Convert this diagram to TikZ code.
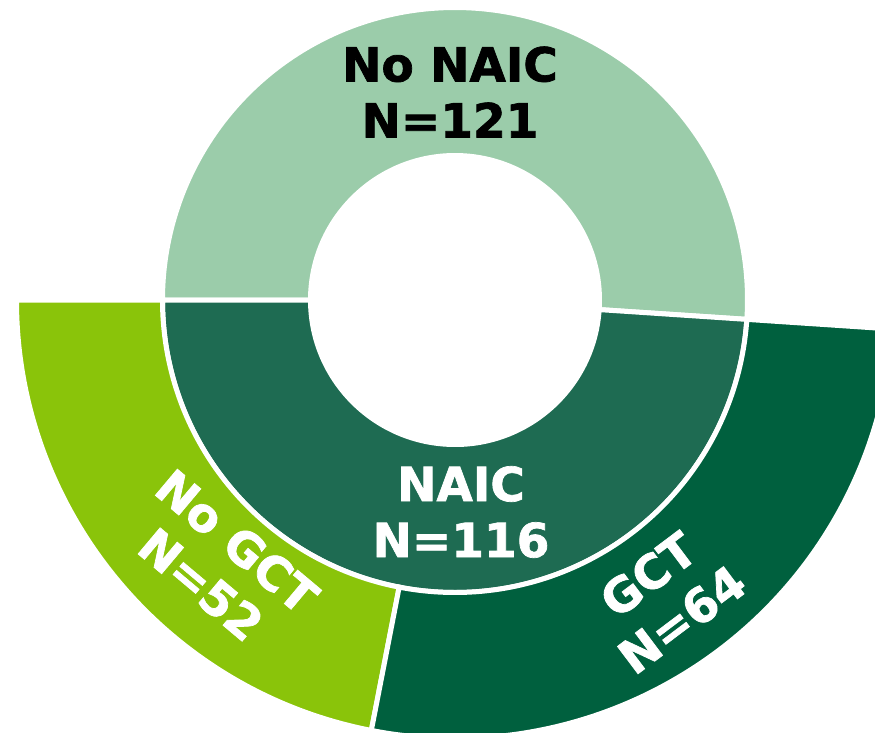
\documentclass[tikz,border=0pt]{standalone}
\usepackage{fontspec}
\setmainfont{DejaVu Sans}[BoldFeatures={FakeBold=1.5}]
\usepackage{tikz}
\usetikzlibrary{calc, positioning}
\definecolor{noNaicGreen}{RGB}{155,204,170}
\definecolor{naicGreen}{RGB}{30,107,82}
\definecolor{noGctGreen}{RGB}{138,196,10}
\definecolor{gctGreen}{RGB}{0,96,62}
\tikzset{
    sectorFill/.style={draw=white, line width=5pt},
    ringLabel/.style={font=\fontsize{47}{56}\selectfont\bfseries, align=center, inner sep=0pt},
    darkLabel/.style={ringLabel, text=black},
    lightLabel/.style={ringLabel, text=white},
}
% #1 colour, #2 start angle, #3 end angle, #4 inner radius, #5 outer radius
\newcommand{\drawSector}[5]{
    \filldraw[sectorFill, fill=#1] (#2:#5pt) arc[start angle=#2, end angle=#3, radius=#5pt]
        -- (#3:#4pt) arc[start angle=#3, end angle=#2, radius=#4pt] -- cycle;
}

\begin{document}
\begin{tikzpicture}[x=1pt, y=1pt]

    \useasboundingbox (-455, -432) rectangle (420, 300);
    \clip (-455, -432) rectangle (420, 300);

    % inner ring
    \drawSector{noNaicGreen}{-3.8}{180}{144.5}{292.5}
    \drawSector{naicGreen}{180}{356.2}{144.5}{292.5}

    % outer ring
    \drawSector{noGctGreen}{180}{259}{292.5}{438.5}
    \drawSector{gctGreen}{259}{356.2}{292.5}{438.5}

    % labels
    \node[darkLabel] (noNaic) at (-5, 208) {No NAIC\\N=121};
    \node[lightLabel] (naic) at (6, -212) {NAIC\\N=116};
    \node[lightLabel, rotate=-40] (noGct) at (-236, -263) {No GCT\\N=52};
    \node[lightLabel, rotate=37] (gct) at (210, -297) {GCT\\N=64};

\end{tikzpicture}
\end{document}
